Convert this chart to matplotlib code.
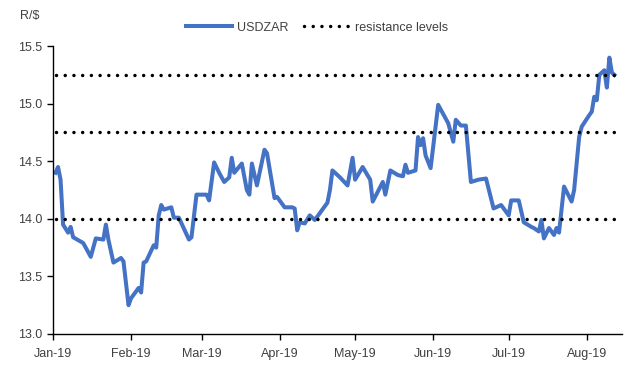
import numpy as np
import pandas as pd
import matplotlib
matplotlib.use('Agg')
import matplotlib.pyplot as plt
import matplotlib.dates as mdates

# USDZAR
dates = ['2019-01-02', '2019-01-03', '2019-01-04', '2019-01-05', '2019-01-07', '2019-01-08',
         '2019-01-09', '2019-01-13', '2019-01-16', '2019-01-18', '2019-01-21', '2019-01-22',
         '2019-01-23', '2019-01-25', '2019-01-28', '2019-01-29', '2019-01-31', '2019-02-01',
         '2019-02-04', '2019-02-05', '2019-02-06', '2019-02-07', '2019-02-10', '2019-02-11',
         '2019-02-12', '2019-02-13', '2019-02-14', '2019-02-17', '2019-02-18', '2019-02-20',
         '2019-02-24', '2019-02-25', '2019-02-27', '2019-03-03', '2019-03-04', '2019-03-06',
         '2019-03-08', '2019-03-10', '2019-03-12', '2019-03-13', '2019-03-14', '2019-03-17',
         '2019-03-19', '2019-03-20', '2019-03-21', '2019-03-23', '2019-03-26', '2019-03-27',
         '2019-03-30', '2019-03-31', '2019-04-03', '2019-04-06', '2019-04-07', '2019-04-08',
         '2019-04-09', '2019-04-11', '2019-04-13', '2019-04-15', '2019-04-17', '2019-04-20',
         '2019-04-21', '2019-04-22', '2019-04-25', '2019-04-28', '2019-04-30', '2019-05-01',
         '2019-05-04', '2019-05-07', '2019-05-08', '2019-05-12', '2019-05-13', '2019-05-15',
         '2019-05-18', '2019-05-20', '2019-05-21', '2019-05-22', '2019-05-25', '2019-05-26',
         '2019-05-27', '2019-05-28', '2019-05-29', '2019-05-31', '2019-06-03', '2019-06-07',
         '2019-06-09', '2019-06-10', '2019-06-12', '2019-06-14', '2019-06-16', '2019-06-19',
         '2019-06-22', '2019-06-25', '2019-06-28', '2019-07-01', '2019-07-02', '2019-07-05',
         '2019-07-07', '2019-07-10', '2019-07-11', '2019-07-13', '2019-07-14', '2019-07-15',
         '2019-07-17', '2019-07-19', '2019-07-20', '2019-07-21', '2019-07-23', '2019-07-26',
         '2019-07-27', '2019-07-29', '2019-07-30', '2019-08-02', '2019-08-03', '2019-08-04',
         '2019-08-05', '2019-08-06', '2019-08-08', '2019-08-09', '2019-08-10', '2019-08-11',
         '2019-08-12']
usdzar = [14.40, 14.45, 14.34, 13.95, 13.88, 13.93,
          13.84, 13.79, 13.67, 13.83, 13.82, 13.95,
          13.82, 13.62, 13.66, 13.63, 13.25, 13.31,
          13.40, 13.36, 13.62, 13.63, 13.77, 13.75,
          14.03, 14.12, 14.08, 14.10, 14.01, 14.01,
          13.82, 13.84, 14.21, 14.21, 14.16, 14.49,
          14.40, 14.32, 14.36, 14.53, 14.40, 14.48,
          14.25, 14.21, 14.48, 14.29, 14.60, 14.57,
          14.18, 14.19, 14.10, 14.10, 14.09, 13.90,
          13.97, 13.96, 14.03, 13.99, 14.05, 14.14,
          14.25, 14.42, 14.36, 14.29, 14.53, 14.34,
          14.45, 14.34, 14.15, 14.32, 14.21, 14.42,
          14.38, 14.37, 14.47, 14.40, 14.42, 14.71,
          14.64, 14.70, 14.55, 14.44, 14.99, 14.83,
          14.67, 14.86, 14.81, 14.81, 14.32, 14.34,
          14.35, 14.09, 14.12, 14.03, 14.16, 14.16,
          13.97, 13.93, 13.92, 13.89, 13.99, 13.83,
          13.92, 13.86, 13.92, 13.88, 14.28, 14.15,
          14.25, 14.71, 14.80, 14.90, 14.93, 15.06,
          15.03, 15.25, 15.29, 15.14, 15.40, 15.27,
          15.25]
resistance = [14.0, 14.75, 15.25]
yticks = [13.0, 13.5, 14.0, 14.5, 15.0, 15.5]

dates = pd.to_datetime(dates)

plt.rcParams['font.family'] = ['Liberation Sans', 'DejaVu Sans']
textcol = '#404040'

fig = plt.figure(figsize=(6.34, 3.81), dpi=100)
ax = fig.add_axes([0.0836, 0.1234, 0.8974, 0.7556])

ax.plot(dates, usdzar, color='#4472C4', linewidth=2.9, label='USDZAR',
        solid_joinstyle='round')
for i, lvl in enumerate(resistance):
    ax.plot([dates[0], dates[-1]], [lvl, lvl], color='black', linewidth=2.5,
            dashes=(0.01, 2.5), dash_capstyle='round',
            label='resistance levels' if i == 0 else None)

ax.set_xlim(pd.Timestamp('2019-01-01'), pd.Timestamp('2019-08-15'))
ax.set_ylim(13.0, 15.5)
ax.set_yticks(yticks)
ax.set_yticklabels(['{:.1f}'.format(t) for t in yticks])
ax.xaxis.set_major_locator(mdates.MonthLocator())
ax.xaxis.set_major_formatter(mdates.DateFormatter('%b-%y'))

for s in ['top', 'right']:
    ax.spines[s].set_visible(False)
for s in ['left', 'bottom']:
    ax.spines[s].set_linewidth(1.0)
    ax.spines[s].set_color('black')
ax.tick_params(axis='both', direction='out', length=4, width=1.0,
               labelsize=9, labelcolor=textcol, color='black')
ax.tick_params(axis='x', pad=6)

fig.text(0.032, 0.958, 'R/$', fontsize=9, color=textcol, va='center')
fig.legend(loc='center', bbox_to_anchor=(0.5, 0.927), ncol=2, frameon=False,
           fontsize=9, handlelength=3.7, columnspacing=1.2, handletextpad=0.4,
           labelcolor=textcol)

fig.savefig('out.png', dpi=100)
